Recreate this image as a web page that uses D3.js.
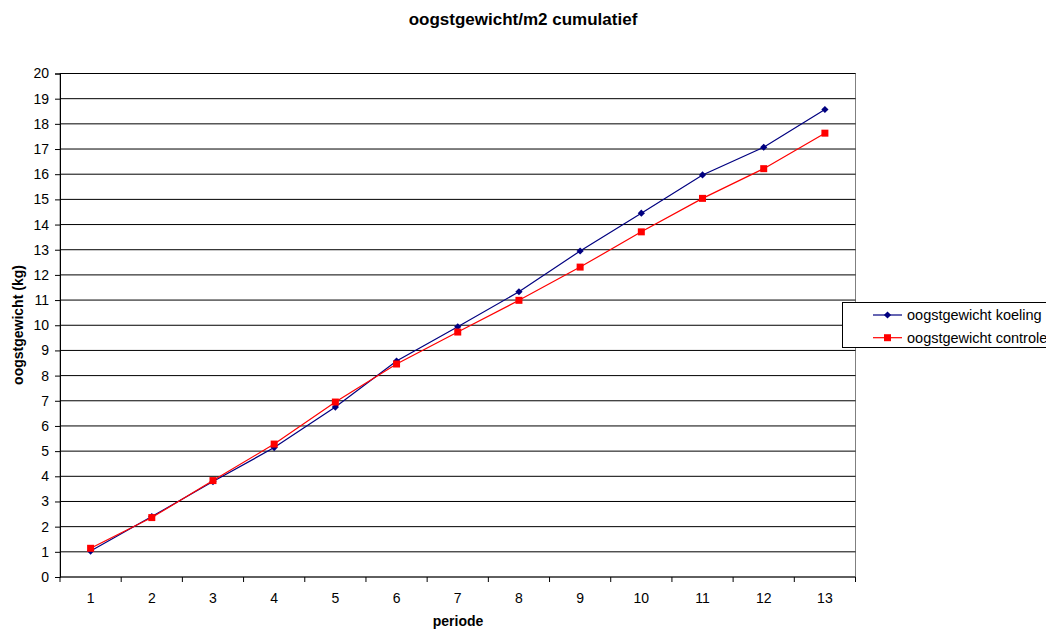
<!DOCTYPE html>
<html>
<head>
<meta charset="utf-8">
<script src="https://cdn.jsdelivr.net/npm/d3@7"></script>
<style>
  html, body { margin: 0; padding: 0; background: #fff; }
  svg { display: block; font-family: "Liberation Sans", Arial, sans-serif; }
</style>
</head>
<body>
<svg id="chart" width="1046" height="630"></svg>
<script>
// Cumulative harvest weight per m2, per period
const periods = [1, 2, 3, 4, 5, 6, 7, 8, 9, 10, 11, 12, 13];
const koeling = [1.03, 2.40, 3.79, 5.14, 6.75, 8.58, 9.94, 11.33, 12.95, 14.45, 15.97, 17.07, 18.57];
const controle = [1.14, 2.36, 3.83, 5.28, 6.95, 8.46, 9.73, 10.99, 12.31, 13.71, 15.04, 16.22, 17.63];
const yTicks = d3.range(0, 21);
const seriesNames = ["oogstgewicht koeling", "oogstgewicht controle"];

const svg = d3.select("#chart");
const plot = { left: 60, right: 855.5, top: 73.5, bottom: 577 };

const x = d3.scaleBand().domain(periods).range([plot.left, plot.right]);
const y = d3.scaleLinear().domain([0, 20]).range([plot.bottom, plot.top]);

// Plot area border
svg.append("rect")
  .attr("x", plot.left).attr("y", plot.top)
  .attr("width", plot.right - plot.left).attr("height", plot.bottom - plot.top)
  .attr("fill", "#fff").attr("stroke", "#808080").attr("stroke-width", 1);

// Horizontal gridlines
svg.append("g").selectAll("line").data(yTicks.filter(d => d > 0)).join("line")
  .attr("x1", plot.left).attr("x2", plot.right)
  .attr("y1", d => y(d)).attr("y2", d => y(d))
  .attr("stroke", "#000").attr("stroke-width", 1);

// Y axis
const yAxis = svg.append("g")
  .attr("transform", `translate(${plot.left},0)`)
  .call(d3.axisLeft(y).tickValues(yTicks).tickSize(5).tickPadding(6).tickFormat(d3.format("d")));
yAxis.select(".domain").attr("stroke", "#000");
yAxis.selectAll(".tick line").attr("stroke", "#000");
yAxis.selectAll(".tick text").attr("font-size", 14).attr("fill", "#000")
  .attr("font-family", "Liberation Sans, Arial, sans-serif");

// X axis: ticks at category boundaries, labels at category centres
const xAxisG = svg.append("g").attr("transform", `translate(0,${plot.bottom})`);
xAxisG.append("line").attr("x1", plot.left).attr("x2", plot.right)
  .attr("y1", 0).attr("y2", 0).attr("stroke", "#000");
const bounds = periods.map(p => x(p)).concat([plot.right]);
xAxisG.selectAll("line.tk").data(bounds).join("line").attr("class", "tk")
  .attr("x1", d => d).attr("x2", d => d).attr("y1", 0).attr("y2", 5)
  .attr("stroke", "#000");
xAxisG.selectAll("text").data(periods).join("text")
  .attr("x", d => x(d) + x.bandwidth() / 2).attr("y", 26)
  .attr("text-anchor", "middle").attr("font-size", 14).attr("fill", "#000")
  .text(d => d);

// Titles
svg.append("text").attr("x", 523).attr("y", 25).attr("text-anchor", "middle")
  .attr("font-size", 17).attr("font-weight", "bold").text("oogstgewicht/m2 cumulatief");
svg.append("text").attr("x", 458).attr("y", 626).attr("text-anchor", "middle")
  .attr("font-size", 14).attr("font-weight", "bold").text("periode");
svg.append("text").attr("transform", "translate(23,325) rotate(-90)").attr("text-anchor", "middle")
  .attr("font-size", 14).attr("font-weight", "bold").text("oogstgewicht (kg)");

const cx = d => x(d) + x.bandwidth() / 2;
const series = [
  { name: seriesNames[0], values: koeling, color: "#000080", rot: 45, size: 26 },
  { name: seriesNames[1], values: controle, color: "#ff0000", rot: 0, size: 49 }
];
const marker = s => d3.symbol().type(d3.symbolSquare).size(s.size)();

const line = d3.line().x((d, i) => cx(periods[i])).y(d => y(d));
series.forEach(s => {
  svg.append("path").datum(s.values).attr("d", line)
    .attr("fill", "none").attr("stroke", s.color).attr("stroke-width", 1.2);
});
series.forEach(s => {
  svg.append("g").selectAll("path").data(s.values).join("path")
    .attr("d", marker(s))
    .attr("transform", (d, i) => `translate(${cx(periods[i])},${y(d)}) rotate(${s.rot})`)
    .attr("fill", s.color);
});

// Legend
const lg = svg.append("g");
lg.append("rect").attr("x", 842.5).attr("y", 302.5).attr("width", 215).attr("height", 45)
  .attr("fill", "#fff").attr("stroke", "#000");
series.forEach((s, i) => {
  const yy = 315 + i * 22.7;
  lg.append("line").attr("x1", 873).attr("x2", 902).attr("y1", yy).attr("y2", yy)
    .attr("stroke", s.color).attr("stroke-width", 1.2);
  lg.append("path").attr("d", marker(s))
    .attr("transform", `translate(887.5,${yy}) rotate(${s.rot})`).attr("fill", s.color);
  lg.append("text").attr("x", 907).attr("y", yy + 5).attr("font-size", 14.5).text(s.name);
});
</script>
</body>
</html>
